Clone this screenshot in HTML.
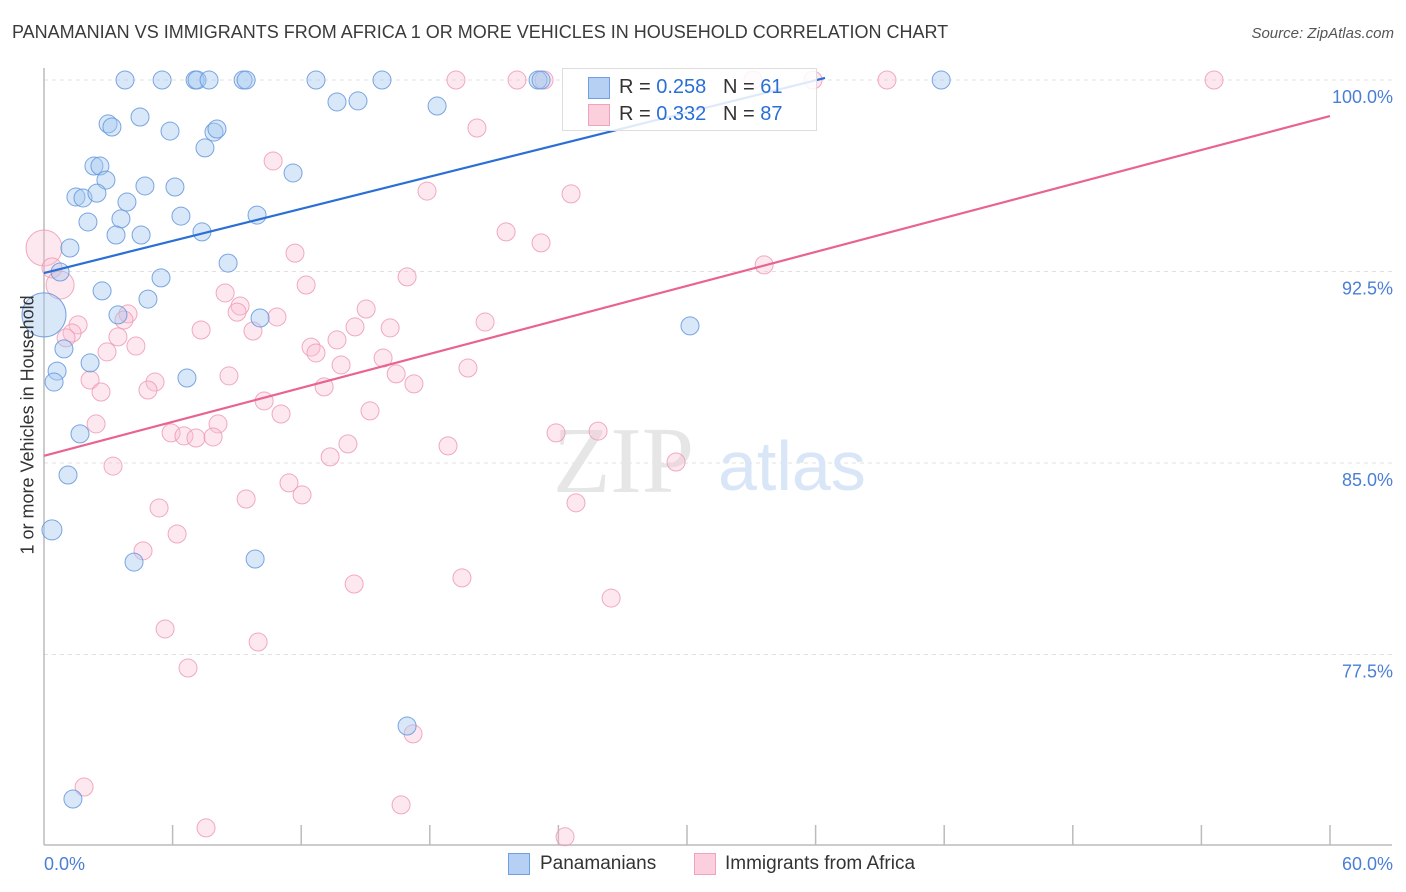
<!DOCTYPE html>
<html><head><meta charset="utf-8">
<style>
body{margin:0;background:#fff;font-family:"Liberation Sans",sans-serif;}
#wrap{position:relative;width:1406px;height:892px;overflow:hidden;}
.t{position:absolute;white-space:nowrap;}
</style></head>
<body>
<div id="wrap">
<div class="t" style="left:12px;top:22px;font-size:18px;color:#3a3a3a;">PANAMANIAN VS IMMIGRANTS FROM AFRICA 1 OR MORE VEHICLES IN HOUSEHOLD CORRELATION CHART</div>
<div class="t" style="right:12px;top:25px;font-size:15px;color:#555;font-style:italic;">Source: ZipAtlas.com</div>
<svg id="svg" width="1406" height="892" style="position:absolute;left:0;top:0"></svg>
</div>
<script>
const xTicks=[0,60];
const yTicks=[77.5,85,92.5,100];
const blueX=[3.78,5.51,7.05,7.14,7.70,9.29,9.43,12.69,15.77,23.05,23.19,41.86,4.48,13.67,14.65,18.34,2.99,3.17,5.88,7.93,8.07,7.51,11.62,2.33,2.61,2.89,4.71,6.11,1.49,1.82,2.47,3.87,2.05,3.59,6.39,9.94,3.36,4.53,7.37,1.21,0.75,5.46,8.59,2.71,4.85,3.45,10.08,30.14,0.93,2.15,0.61,0.47,6.67,1.68,1.12,0.37,4.20,9.85,16.94,1.35,0];
const blueY=[100,100,100,100,100,100,100,100,100,100,100,100,98.55,99.14,99.18,98.98,98.28,98.16,98.00,97.96,98.08,97.34,96.36,96.63,96.63,96.08,95.85,95.81,95.42,95.38,95.57,95.22,94.44,94.56,94.67,94.71,93.93,93.93,94.05,93.42,92.48,92.25,92.83,91.74,91.42,90.80,90.68,90.37,89.47,88.92,88.60,88.17,88.33,86.14,84.53,82.38,81.12,81.24,74.70,71.84,90.80];
const blueR=[9,9,9,9,9,9,9,9,9,9,9,9,9,9,9,9,9,9,9,9,9,9,9,9,9,9,9,9,9,9,9,9,9,9,9,9,9,9,9,9,9,9,9,9,9,9,9,9,9,9,9,9,9,9,9,10,9,9,9,9,22];
const pinkX=[0,0.37,0.75,19.22,22.07,23.33,33.08,35.88,39.33,54.59,20.20,10.69,17.87,24.59,21.56,23.19,11.71,33.60,16.94,12.23,8.45,9.15,9.01,10.87,15.03,3.92,3.73,1.59,1.31,1.03,3.45,4.29,2.94,7.33,9.75,16.15,20.58,14.51,13.67,12.46,12.69,13.86,15.82,16.43,8.63,2.15,5.18,4.85,13.07,17.26,19.78,2.66,10.27,15.21,11.06,2.43,8.12,5.93,6.53,7.09,7.89,14.18,13.35,18.85,23.89,25.85,29.49,3.22,11.43,12.04,9.43,24.82,5.37,6.21,4.62,14.47,19.50,26.46,5.65,9.99,6.72,17.22,1.87,16.66,7.56,24.31];
const pinkY=[93.42,92.64,91.97,100,100,100,100,100,100,100,98.12,96.83,95.65,95.54,94.05,93.62,93.22,92.76,92.29,91.97,91.66,91.15,90.91,90.72,91.03,90.84,90.60,90.41,90.09,89.90,89.94,89.58,89.35,90.21,90.17,90.29,90.52,90.33,89.82,89.54,89.31,88.84,89.11,88.49,88.41,88.25,88.17,87.86,87.98,88.10,88.72,87.78,87.43,87.04,86.92,86.53,86.53,86.18,86.06,85.98,86.02,85.75,85.24,85.67,86.18,86.25,85.04,84.88,84.22,83.75,83.59,83.44,83.24,82.22,81.56,80.26,80.50,79.71,78.50,77.99,76.97,74.39,72.31,71.61,70.71,70.36];
const pinkR=[18,10,14];
const blueTrend=[[0,92.44],[36.44,100.08]];
const pinkTrend=[[0,85.28],[60,98.59]];

const X0=44,X1=1330,Y100=80,Yper=191.5/7.5;
const sx=v=>X0+(v/60)*(X1-X0);
const sy=v=>Y100+(100-v)*Yper;
const NS='http://www.w3.org/2000/svg';
const svg=document.getElementById('svg');
function mk(tag,attrs){const e=document.createElementNS(NS,tag);for(const k in attrs)e.setAttribute(k,attrs[k]);svg.appendChild(e);return e;}

yTicks.forEach(v=>{
  const g=mk('line',{x1:X0,x2:1392,y1:sy(v),y2:sy(v),stroke:'#e0e0e0','stroke-dasharray':'4,4'});
  
  
  const t=mk('text',{x:1393,y:sy(v)+23,'text-anchor':'end','font-size':18,fill:'#4a7fd4','font-family':'Liberation Sans, sans-serif'});
  t.textContent=v.toFixed(1)+'%';
  
  
});
const ax=mk('line',{x1:X0,x2:X0,y1:68,y2:845,stroke:'#bbb','stroke-width':1.5});


const bx=mk('line',{x1:X0,x2:1392,y1:845,y2:845,stroke:'#bbb','stroke-width':1.5});


for(let i=1;i<=10;i++){
  const tk=mk('line',{x1:sx(i*6),x2:sx(i*6),y1:825,y2:845,stroke:'#bbb','stroke-width':1.5});
  
  
}
xTicks.forEach((v,i)=>{
  const t=mk('text',{x:i==0?X0:1393,y:870,'text-anchor':i==0?'start':'end','font-size':18,fill:'#4a7fd4','font-family':'Liberation Sans, sans-serif'});
  t.textContent=v.toFixed(1)+'%';
  
  
});
const w1=mk('text',{x:553,y:492,'font-size':94,fill:'#e6e6e6','font-family':'Liberation Serif, serif'});w1.textContent='ZIP';


const w2=mk('text',{x:718,y:490,'font-size':70,fill:'#d9e6f7','font-family':'Liberation Sans, sans-serif'});w2.textContent='atlas';



pinkX.forEach((x,i)=>{
  const c=mk('circle',{cx:sx(x),cy:sy(pinkY[i]),r:pinkR[i]||9,fill:'rgba(248,190,208,0.35)',stroke:'rgba(238,150,178,0.8)','stroke-width':1});
  
  
});
blueX.forEach((x,i)=>{
  const c=mk('circle',{cx:sx(x),cy:sy(blueY[i]),r:blueR[i]||9,fill:'rgba(165,199,241,0.42)',stroke:'rgba(100,150,220,0.85)','stroke-width':1});
  
  
});
const bl=mk('line',{x1:sx(blueTrend[0][0]),y1:sy(blueTrend[0][1]),x2:sx(blueTrend[1][0]),y2:sy(blueTrend[1][1]),stroke:'#2a6fd6','stroke-width':2.2});


const pl=mk('line',{x1:sx(pinkTrend[0][0]),y1:sy(pinkTrend[0][1]),x2:sx(pinkTrend[1][0]),y2:sy(pinkTrend[1][1]),stroke:'#e8648f','stroke-width':2.2});


</script>
<div class="t" style="left:-72px;top:444px;font-size:18px;color:#333;transform:rotate(-90deg);transform-origin:center;width:200px;text-align:center;">1 or more Vehicles in Household</div>
<div style="position:absolute;left:562px;top:68px;width:253px;height:61px;background:rgba(255,255,255,0.85);border:1px solid #ddd;font-size:20px;">
 <div style="position:absolute;left:25px;top:8px;width:20px;height:20px;background:#b5d0f3;border:1px solid #6f9fe0;"></div>
 <div class="t" style="left:56px;top:7px;color:#333;">R = <span style="color:#2a6fd6">0.258</span>&nbsp;&nbsp;&nbsp;N = <span style="color:#2a6fd6">61</span></div>
 <div style="position:absolute;left:25px;top:35px;width:20px;height:20px;background:#fbd0dc;border:1px solid #f0a3bb;"></div>
 <div class="t" style="left:56px;top:34px;color:#333;">R = <span style="color:#2a6fd6">0.332</span>&nbsp;&nbsp;&nbsp;N = <span style="color:#2a6fd6">87</span></div>
</div>
<div style="position:absolute;left:508px;top:853px;width:20px;height:20px;background:#b5d0f3;border:1px solid #6f9fe0;"></div>
<div class="t" style="left:540px;top:853px;font-size:19px;color:#333;">Panamanians</div>
<div style="position:absolute;left:694px;top:853px;width:20px;height:20px;background:#fbd0dc;border:1px solid #f0a3bb;"></div>
<div class="t" style="left:725px;top:853px;font-size:19px;color:#333;">Immigrants from Africa</div>
</body></html>
